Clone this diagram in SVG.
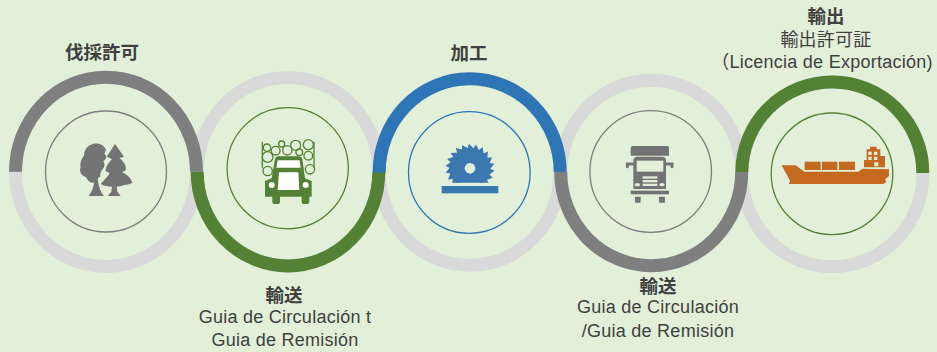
<svg xmlns="http://www.w3.org/2000/svg" xmlns:xlink="http://www.w3.org/1999/xlink" width="937" height="352" viewBox="0 0 937 352">
<style>
.ring{fill:none;stroke-width:13;stroke:#d9d9d9}
.arc{fill:none;stroke-width:13;stroke-linecap:butt}
.in{fill:none;stroke-width:1.3}
text{font-family:"Liberation Sans","Noto Sans CJK JP",sans-serif;text-anchor:middle;fill:#404040}
.h{font-size:18.5px;font-weight:bold}
.t{font-size:18px;letter-spacing:.25px}
.g{fill:#737373}
.bgf{fill:#e2f0d9}
</style>
<defs>
<clipPath id="sawclip"><rect x="0" y="0" width="210" height="143"/></clipPath>
<path id="tooth" d="M-3 -74L18 -52L-10 -52Z"/>
</defs>
<rect width="937" height="352" fill="#e2f0d9"/>
<g id="connectors">
<ellipse class="ring" cx="106" cy="171.8" rx="90.5" ry="94.6"/>
<ellipse class="ring" cx="288" cy="171.7" rx="90.8" ry="94.3"/>
<ellipse class="ring" cx="469.7" cy="171.9" rx="90.5" ry="93.4"/>
<ellipse class="ring" cx="651.2" cy="173" rx="90.5" ry="92.8"/>
<ellipse class="ring" cx="832.3" cy="174.2" rx="90.5" ry="92.6"/>
<path class="arc" stroke="#7f7f7f" d="M15.5 171.8A90.5 94.6 0 0 1 196.5 171.8"/>
<path class="arc" stroke="#548235" d="M197.2 171.7A90.8 94.3 0 0 0 378.8 171.7"/>
<path class="arc" stroke="#2e75b6" d="M379.2 172.4A90.5 93.4 0 0 1 560.2 171.9"/>
<path class="arc" stroke="#7f7f7f" d="M560.7 171.7A90.5 94 0 0 0 741.7 171.7"/>
<path class="arc" stroke="#548235" d="M741.8 172A90.5 90.5 0 0 1 922.8 173"/>
</g>
<g id="node-1">
<circle class="in" stroke="#7f7f7f" cx="106" cy="171.5" r="60.5"/>
<g class="g" transform="translate(70 135) scale(.3333)">
<path d="M72 26C90 24 104 32 108 46L103 56C112 62 110 72 100 78C103 86 106 92 100 100C94 108 88 118 92 124C84 128 82 132 84 138C86 156 92 172 102 183L56 183C66 170 72 155 72 142C62 146 52 136 48 126C36 124 26 110 32 96C28 84 36 70 42 62C42 42 56 28 72 26Z"/>
<path d="M135 27L162 65L148 70C160 78 170 92 167 106L156 112C170 118 184 130 187 144C176 150 165 148 155 153C148 155 142 154 140 155L142 170L152 183L113 183L124 170L126 155C113 155 100 153 92 146C102 136 112 126 119 114L106 108C108 95 116 82 126 72L110 65Z"/>
</g>
<text class="h" x="102" y="59">伐採許可</text>
</g>
<g id="node-2">
<circle class="in" stroke="#548235" cx="287.7" cy="168.2" r="60.6"/>
<g transform="translate(255 135) scale(.3333)">
<g fill="none" stroke="#548235" stroke-width="4">
<path d="M22 20V100M177 20V100"/>
<circle cx="36" cy="38" r="11"/><circle cx="62" cy="47" r="13"/><circle cx="80" cy="27" r="9"/><circle cx="97" cy="46" r="14"/><circle cx="122" cy="31" r="15"/><circle cx="160" cy="29" r="15"/><circle cx="133" cy="52" r="10"/><circle cx="38" cy="66" r="16"/><circle cx="160" cy="62" r="13"/><circle cx="38" cy="108" r="14"/><circle cx="165" cy="103" r="14"/>
</g>
<path fill="#548235" d="M60 72Q62 64 70 64H132Q140 64 142 72L150 130L170 138V185H163V200Q163 207 155 207H148Q140 207 140 200V185H75V200Q75 207 67 207H60Q52 207 52 200V185H30V138L50 130Z"/>
<path fill="#fff" d="M68 76H134L137 98H64Z"/>
<path fill="#fff" d="M72 112H130L133 165H68Z"/>
<circle cx="50" cy="150" r="9" fill="#fff"/><circle cx="152" cy="150" r="9" fill="#fff"/>
</g>
<text class="h" x="284" y="302">輸送</text>
<text class="t" x="285" y="323">Guia de Circulación t</text>
<text class="t" x="285" y="346">Guia de Remisión</text>
</g>
<g id="node-3">
<circle class="in" stroke="#2e75b6" cx="469.3" cy="172.5" r="60.8"/>
<g transform="translate(435 135) scale(.3333)" fill="#3c78b0">
<g clip-path="url(#sawclip)">
<g transform="translate(105 100)">
<circle r="56"/>
<use xlink:href="#tooth"/><use xlink:href="#tooth" transform="rotate(16.4)"/><use xlink:href="#tooth" transform="rotate(32.7)"/><use xlink:href="#tooth" transform="rotate(49.1)"/><use xlink:href="#tooth" transform="rotate(65.5)"/><use xlink:href="#tooth" transform="rotate(81.8)"/><use xlink:href="#tooth" transform="rotate(98.2)"/><use xlink:href="#tooth" transform="rotate(114.5)"/><use xlink:href="#tooth" transform="rotate(130.9)"/><use xlink:href="#tooth" transform="rotate(147.3)"/><use xlink:href="#tooth" transform="rotate(163.6)"/><use xlink:href="#tooth" transform="rotate(180)"/><use xlink:href="#tooth" transform="rotate(196.4)"/><use xlink:href="#tooth" transform="rotate(212.7)"/><use xlink:href="#tooth" transform="rotate(229.1)"/><use xlink:href="#tooth" transform="rotate(245.5)"/><use xlink:href="#tooth" transform="rotate(261.8)"/><use xlink:href="#tooth" transform="rotate(278.2)"/><use xlink:href="#tooth" transform="rotate(294.5)"/><use xlink:href="#tooth" transform="rotate(310.9)"/><use xlink:href="#tooth" transform="rotate(327.3)"/><use xlink:href="#tooth" transform="rotate(343.6)"/>
</g>
</g>
<circle class="bgf" cx="105" cy="100" r="16"/>
<rect x="20" y="153" width="170" height="22"/>
</g>
<text class="h" x="469" y="60">加工</text>
</g>
<g id="node-4">
<circle class="in" stroke="#7f7f7f" cx="650.7" cy="171.5" r="60.8"/>
<g transform="translate(620 140) scale(.3333)" class="g">
<path d="M38 18H142Q147 18 147 24V47H32V24Q32 18 38 18Z"/>
<path d="M52 50H126Q138 50 138 62V147H40V62Q40 50 52 50Z"/>
<path d="M40 72H22V80M138 72H156V80" fill="none" stroke="#737373" stroke-width="9" stroke-linecap="round"/>
<rect x="50" y="62" width="80" height="33" class="bgf"/>
<g class="bgf"><rect x="68" y="109" width="44" height="7"/><rect x="68" y="120" width="44" height="7"/><rect x="68" y="131" width="44" height="7"/><ellipse cx="52" cy="134" rx="8" ry="5"/><ellipse cx="126" cy="134" rx="8" ry="5"/></g>
<rect x="32" y="152" width="115" height="11"/>
<rect x="45" y="170" width="17" height="18" rx="2"/><rect x="117" y="170" width="18" height="18" rx="2"/>
</g>
<text class="h" x="658" y="293">輸送</text>
<text class="t" x="658" y="313">Guia de Circulación</text>
<text class="t" x="658" y="337">/Guia de Remisión</text>
</g>
<g id="node-5">
<circle class="in" stroke="#548235" cx="832" cy="173.8" r="60.8"/>
<g transform="translate(775 140) scale(.3333)" fill="#c5691e">
<path d="M20 76H62L88 95H250L262 86L342 88V108L330 118L334 125L325 132H42L45 122Z"/>
<rect x="89" y="65" width="48" height="25"/><rect x="141" y="65" width="46" height="25"/><rect x="192" y="65" width="48" height="25"/>
<path d="M267 82V60H275V28H285V20H305V28H316V48H330V82Z"/>
<g class="bgf"><rect x="280" y="35" width="10" height="10"/><rect x="297" y="35" width="10" height="10"/><rect x="280" y="50" width="10" height="10"/><rect x="297" y="50" width="10" height="10"/><rect x="298" y="67" width="12" height="12"/></g>
</g>
<text class="h" x="826" y="23">輸出</text>
<text class="t" x="826" y="46">輸出許可証</text>
<text class="t" x="822" y="68">（Licencia de Exportación)</text>
</g>
</svg>
